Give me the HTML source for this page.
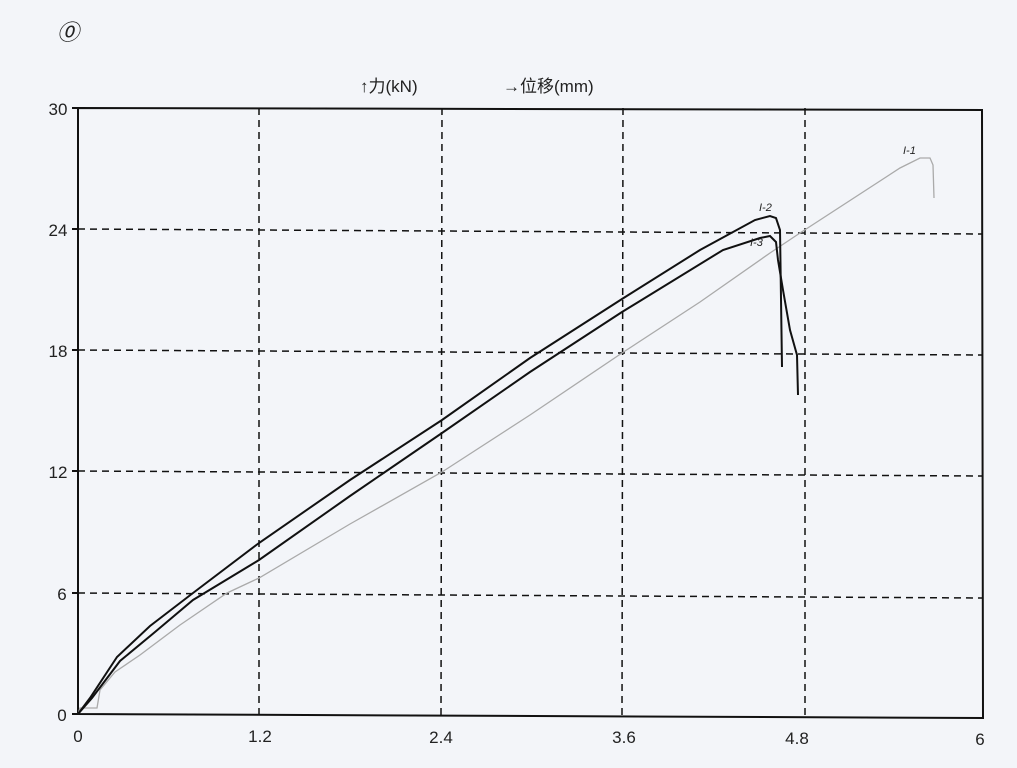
<!DOCTYPE html>
<html><head><meta charset="utf-8"><style>
body{margin:0;background:#f3f5f9;}
svg{display:block}
text{font-family:"Liberation Sans","Noto Sans CJK SC",sans-serif;fill:#222}
</style></head><body>
<svg width="1017" height="768" viewBox="0 0 1017 768">
<rect width="1017" height="768" fill="#f3f5f9"/>
<text x="57" y="40" font-size="22" font-style="italic" fill="#555">⓪</text>
<text x="360" y="92" font-size="17">↑力(kN)</text>
<text x="503" y="92" font-size="17">→位移(mm)</text>
<g stroke="#111" stroke-width="1.5" stroke-dasharray="7,5" fill="none">
<line x1="259" y1="108" x2="259" y2="716"/>
<line x1="442" y1="108" x2="441" y2="716"/>
<line x1="623" y1="108" x2="622" y2="716"/>
<line x1="805" y1="108" x2="805" y2="718"/>
<line x1="78" y1="229" x2="982" y2="234"/>
<line x1="78" y1="350" x2="982" y2="355"/>
<line x1="78" y1="471" x2="982" y2="476"/>
<line x1="78" y1="593" x2="982" y2="598"/>
</g>
<g stroke="#111" stroke-width="2" fill="none">
<polyline points="78,108 982,110 983,718 78,714 78,108"/>
<line x1="72" y1="108" x2="78" y2="108"/><line x1="72" y1="229" x2="78" y2="229"/>
<line x1="72" y1="350" x2="78" y2="350"/><line x1="72" y1="471" x2="78" y2="471"/>
<line x1="72" y1="593" x2="78" y2="593"/><line x1="72" y1="714" x2="78" y2="714"/>
</g>
<g font-size="17" text-anchor="middle">
<text x="58" y="115">30</text><text x="58" y="236">24</text><text x="58" y="357">18</text>
<text x="58" y="478">12</text><text x="62" y="600">6</text><text x="62" y="721">0</text>
</g>
<g font-size="17" text-anchor="middle">
<text x="78" y="742">0</text><text x="260" y="742">1.2</text><text x="441" y="743">2.4</text>
<text x="624" y="743">3.6</text><text x="797" y="744">4.8</text><text x="980" y="745">6</text>
</g>
<polyline fill="none" stroke="#aaa" stroke-width="1.3" points="78,714 80,708 97,708 100,690 115,672 140,655 180,625 227,593 259,578 350,524 442,472 530,415 622,353 700,302 770,253 800,233 900,168 920,158 930,158 933,165 934,198"/>
<polyline fill="none" stroke="#111" stroke-width="2" points="78,714 90,698 117,657 150,626 193,593 259,543 350,480 442,420 530,358 622,299 700,250 755,220 770,216 776,218 780,230 782,367"/>
<polyline fill="none" stroke="#111" stroke-width="2" points="78,714 92,698 120,661 155,632 193,600 259,560 350,496 442,433 530,372 622,312 723,250 760,238 770,236 776,242 778,260 783,290 790,330 797,355 798,395"/>
<g font-size="11" font-style="italic" fill="#333">
<text x="903" y="154">I-1</text><text x="759" y="211">I-2</text><text x="750" y="246">I-3</text>
</g>
</svg>
</body></html>
